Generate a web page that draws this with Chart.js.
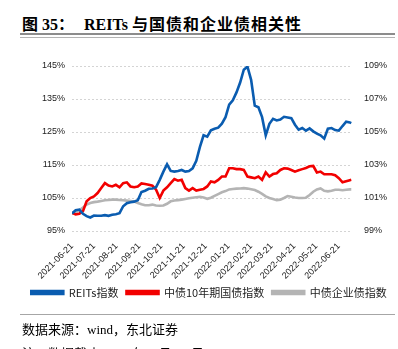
<!DOCTYPE html>
<html>
<head>
<meta charset="utf-8">
<script src="https://cdn.jsdelivr.net/npm/chart.js@4/dist/chart.umd.min.js"></script>
<style>
    body { margin: 0; background: #fff; }
    .page { position: relative; width: 398px; height: 349px; overflow: hidden; }
    .title { position: absolute; left: 22px; top: 11px; font: bold 16px 'Liberation Serif', 'Noto Sans CJK SC'; color: #000; white-space: nowrap; }
    .title .cn { letter-spacing: 1px; }
    .rule1 { position: absolute; left: 20px; width: 375px; top: 33px; height: 2px; background: #8c8c8c; }
    .rule2 { position: absolute; left: 20px; width: 375px; top: 37px; height: 1px; background: #b4b4b4; }
    .rule3 { position: absolute; left: 20px; width: 375px; top: 314px; height: 1px; background: #a6a6a6; }
    .note { position: absolute; left: 22px; font: 13px 'Liberation Serif', 'Noto Sans CJK SC'; color: #000; white-space: nowrap; }
    canvas { position: absolute; left: 0; top: 0; }
</style>
</head>
<body>
<div class="page">
    <div class="title">图 35：<span style="margin-left:10px">REITs</span> <span class="cn">与国债和企业债相关性</span></div>
    <div class="rule1"></div>
    <div class="rule2"></div>
    <canvas id="myChart" width="398" height="349"></canvas>
    <div class="rule3"></div>
    <div class="note" style="top:319px">数据来源：wind，东北证券</div>
    <div class="note" style="top:343px">注：数据截止 2022 年 7 月 21 日</div>
</div>
<script>
// data
const dates = [
    "2021-06-21", "2021-06-26", "2021-07-01", "2021-07-06", "2021-07-11", "2021-07-16", "2021-07-21", "2021-07-26",
    "2021-07-31", "2021-08-05", "2021-08-10", "2021-08-15", "2021-08-20", "2021-08-25", "2021-08-30", "2021-09-04",
    "2021-09-09", "2021-09-14", "2021-09-19", "2021-09-24", "2021-09-29", "2021-10-04", "2021-10-09", "2021-10-14",
    "2021-10-19", "2021-10-24", "2021-10-29", "2021-11-03", "2021-11-08", "2021-11-13", "2021-11-18", "2021-11-23",
    "2021-11-28", "2021-12-03", "2021-12-08", "2021-12-13", "2021-12-18", "2021-12-23", "2021-12-28", "2022-01-02",
    "2022-01-07", "2022-01-12", "2022-01-17", "2022-01-22", "2022-01-27", "2022-02-01", "2022-02-06", "2022-02-11",
    "2022-02-16", "2022-02-21", "2022-02-26", "2022-03-03", "2022-03-08", "2022-03-13", "2022-03-18", "2022-03-23",
    "2022-03-28", "2022-04-02", "2022-04-07", "2022-04-12", "2022-04-17", "2022-04-22", "2022-04-27", "2022-05-02",
    "2022-05-07", "2022-05-12", "2022-05-17", "2022-05-22", "2022-05-27", "2022-06-01", "2022-06-06", "2022-06-11",
    "2022-06-16", "2022-06-21", "2022-06-26", "2022-07-01", "2022-07-06", "2022-07-08"
];

const reits = [
    100.3, 101.3, 101.5, 100.2, 99.5, 99.1, 99.7, 99.6, 99.6, 99.8, 99.6, 99.9, 100.1, 100.4, 102.5, 103.4,
    103.7, 103.9, 104.3, 106.8, 107.2, 107.8, 107.9, 108.3, 110.5, 113.0, 115.2, 113.2, 113.0, 113.2, 113.5, 113.0,
    113.2, 114.0, 116.3, 120.5, 124.0, 123.6, 125.5, 126.0, 126.3, 127.5, 129.5, 133.3, 134.6, 137.0, 140.0, 143.9,
    144.8, 140.8, 133.0, 132.5, 129.5, 124.0, 127.5, 129.0, 128.5, 128.8, 129.6, 129.4, 129.2, 127.2, 125.7, 126.2,
    125.4, 126.1, 125.2, 124.5, 124.0, 123.0, 126.0, 126.2, 125.6, 125.4, 126.8, 128.1, 127.9, 127.7
];

const govBond10y = [
    100.1, 100.0, 100.05, 100.2, 100.8, 101.0, 101.1, 101.3, 101.6, 101.9, 101.75, 101.7, 101.8, 101.65, 101.9, 101.95,
    101.7, 101.65, 101.7, 101.88, 101.85, 101.8, 101.75, 101.5, 101.0, 101.45, 101.65, 101.9, 102.15, 102.05, 102.1, 101.6,
    101.45, 101.6, 101.45, 101.5, 101.55, 101.7, 102.0, 101.95, 102.1, 102.3, 102.3, 102.8, 102.8, 102.75, 102.75, 102.7,
    102.3, 102.25, 102.2, 102.3, 102.1, 102.55, 102.3, 102.45, 102.5, 102.7, 102.8, 102.78, 102.7, 102.6, 102.68, 102.75,
    102.82, 102.92, 102.94, 102.55, 102.6, 102.44, 102.44, 102.44, 102.38, 102.2, 101.95, 102.02, 102.08, 102.1
];

const corpBond = [
    100.1, 100.13, 100.25, 100.42, 100.6, 100.7, 100.75, 100.78, 100.82, 100.86, 100.88, 100.9, 100.9, 100.88, 100.86, 100.84,
    100.82, 100.78, 100.7, 100.62, 100.56, 100.56, 100.6, 100.55, 100.53, 100.55, 100.65, 100.8, 100.85, 100.87, 100.9, 100.94,
    100.98, 101.02, 101.05, 101.07, 101.03, 100.95, 101.02, 101.13, 101.24, 101.35, 101.42, 101.52, 101.55, 101.57, 101.58, 101.6,
    101.57, 101.53, 101.48, 101.38, 101.25, 101.1, 101.0, 100.94, 100.87, 100.9, 101.0, 101.12, 101.08, 101.03, 101.0, 101.0,
    101.02, 101.18, 101.38, 101.52, 101.58, 101.44, 101.4, 101.44, 101.5, 101.5, 101.47, 101.5, 101.52, 101.52
];

const tickLabels = [
    "2021-06-21", "2021-07-21", "2021-08-21", "2021-09-21", "2021-10-21", "2021-11-21", "2021-12-21",
    "2022-01-21", "2022-02-21", "2022-03-21", "2022-04-21", "2022-05-21", "2022-06-21"
];

const seriesNames = ["REITs指数", "中债10年期国债指数", "中债企业债指数"];

// days since first date, used for the x position
const day0 = Date.parse(dates[0]);
function dayOf(s) {
    return (Date.parse(s) - day0) / 86400000;
}
function points(values) {
    return values.map(function (v, i) {
        return { x: dayOf(dates[i]), y: v };
    });
}
const tickDays = tickLabels.map(dayOf);

const tickFont = { family: "'Liberation Sans', Arial", size: 9 };

const ctx = document.getElementById("myChart").getContext("2d");
const myChart = new Chart(ctx, {
    type: "line",
    data: {
        datasets: [
            {
                label: seriesNames[0],
                data: points(reits),
                borderColor: "#0a5cb0",
                backgroundColor: "#0a5cb0",
                yAxisID: "y",
            },
            {
                label: seriesNames[1],
                data: points(govBond10y),
                borderColor: "#f20000",
                backgroundColor: "#f20000",
                yAxisID: "y1",
            },
            {
                label: seriesNames[2],
                data: points(corpBond),
                borderColor: "#b4b4b4",
                backgroundColor: "#b4b4b4",
                yAxisID: "y1",
            },
        ],
    },
    options: {
        responsive: false,
        animation: false,
        devicePixelRatio: 1,
        elements: {
            point: { radius: 0 },
            line: { borderWidth: 2.6, tension: 0 },
        },
        layout: {
            padding: { top: 66, left: 20, right: 0, bottom: 41 },
        },
        plugins: {
            tooltip: { enabled: false },
            legend: {
                position: "bottom",
                labels: {
                    boxWidth: 32,
                    boxHeight: 3,
                    padding: 8,
                    color: "#222",
                    font: { family: "'Noto Sans CJK SC'", size: 11 },
                },
            },
        },
        scales: {
            x: {
                type: "linear",
                min: 0,
                max: 383,
                grid: { display: false },
                border: { display: false },
                afterBuildTicks: function (axis) {
                    axis.ticks = tickDays.map(function (d) { return { value: d }; });
                },
                afterFit: function (axis) {
                    axis.height = 48;
                },
                ticks: {
                    autoSkip: false,
                    minRotation: 45,
                    maxRotation: 45,
                    padding: 2,
                    color: "#222",
                    font: tickFont,
                    callback: function (value, index) {
                        return tickLabels[index];
                    },
                },
            },
            y: {
                position: "left",
                min: 95,
                max: 145,
                afterFit: function (axis) {
                    axis.width = 52;
                },
                grid: { color: "#d4d4d4", drawTicks: false },
                border: { display: false, dash: [2, 2] },
                ticks: {
                    stepSize: 10,
                    padding: 7,
                    color: "#222",
                    font: tickFont,
                    callback: function (v) { return v + "%"; },
                },
            },
            y1: {
                position: "right",
                min: 99,
                max: 109,
                afterFit: function (axis) {
                    axis.width = 46;
                },
                grid: { display: false },
                border: { display: false },
                ticks: {
                    stepSize: 2,
                    padding: 4,
                    color: "#222",
                    font: tickFont,
                    callback: function (v) { return v + "%"; },
                },
            },
        },
    },
});
</script>
</body>
</html>
